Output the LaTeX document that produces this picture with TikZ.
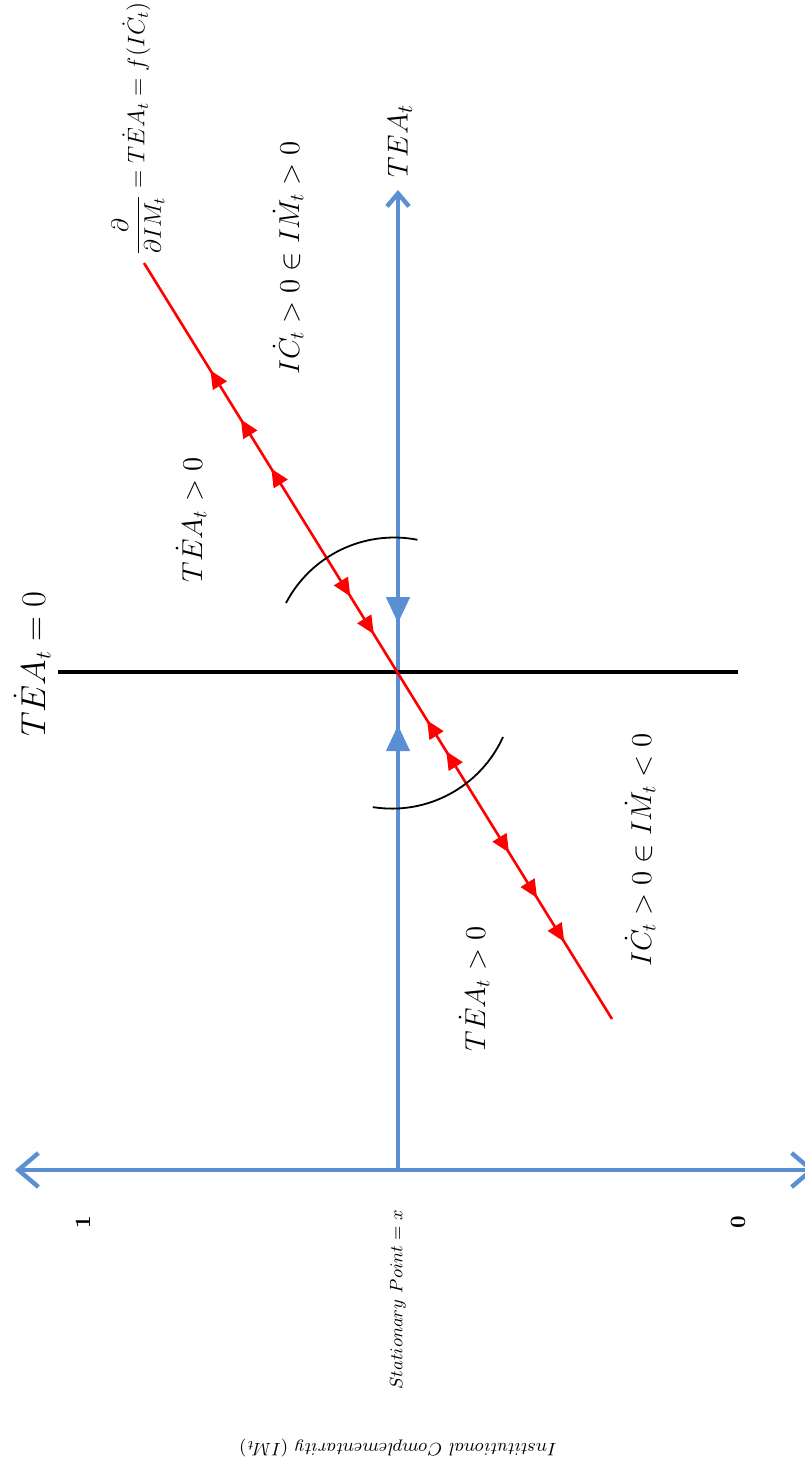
\documentclass[tikz,border=0pt]{standalone}
\usepackage{amsmath,amssymb}
\usepackage{xcolor}
\usepackage{tikz}
\usetikzlibrary{arrows.meta, decorations.markings}
\definecolor{axisblue}{RGB}{91,143,212}
\tikzset{
  axisline/.style={draw=axisblue, line width=2.2pt},
  nullline/.style={draw=black, line width=2pt},
  arcline/.style={draw=black, line width=0.9pt},
  rotlabel/.style={rotate=90, inner sep=0pt},
  bluetip/.tip={Triangle[length=13pt, width=11.5pt]},
  redtip/.tip={Triangle[length=9pt, width=8pt]},
  pathline/.style={
    draw=red, color=red, line width=1.3pt,
    postaction={decorate},
    decoration={markings,
      mark=at position 0.142 with {\arrowreversed{redtip}},
      mark=at position 0.207 with {\arrowreversed{redtip}},
      mark=at position 0.272 with {\arrowreversed{redtip}},
      mark=at position 0.441 with {\arrow{redtip}},
      mark=at position 0.491 with {\arrow{redtip}},
      mark=at position 0.605 with {\arrowreversed{redtip}},
      mark=at position 0.646 with {\arrowreversed{redtip}},
      mark=at position 0.780 with {\arrow{redtip}},
      mark=at position 0.840 with {\arrow{redtip}},
      mark=at position 0.898 with {\arrow{redtip}}}
  },
  stableline/.style={
    axisline, color=axisblue,
    postaction={decorate},
    decoration={markings,
      mark=at position 0.454 with {\arrow{bluetip}},
      mark=at position 0.558 with {\arrowreversed{bluetip}}}
  },
}

\begin{document}
\begin{tikzpicture}[x=0.5pt, y=-0.5pt]
  \useasboundingbox (0,0) rectangle (804,1468);

  % Points
  \coordinate (O) at (398,672);
  \coordinate (vbot) at (398,1170);
  \coordinate (vtop) at (398,190);
  \coordinate (hl) at (15,1170);
  \coordinate (hr) at (815,1170);
  \coordinate (nl) at (58,672);
  \coordinate (nr) at (738,672);
  \coordinate (rs) at (144,263);
  \coordinate (re) at (612,1019);
  \coordinate (arcA) at (286,603);
  \coordinate (arcB) at (503,737);

  % Axes
  \draw[axisline, {Straight Barb[length=10pt, width=17pt]}-{Straight Barb[length=10pt, width=17pt]}]
    (hl) -- (hr);
  \draw[stableline, -{Straight Barb[length=6.5pt, width=11pt]}] (vbot) -- (vtop);
  \draw[nullline] (nl) -- (nr);

  % Saddle path
  \draw[pathline] (rs) -- (re);

  % Arcs
  \draw[arcline] (arcA) arc[start angle=207.6, end angle=281, radius=122];
  \draw[arcline] (arcB) arc[start angle=24.4, end angle=99, radius=122];

  % Labels
  \node[rotlabel, font=\fontsize{16}{19}\selectfont] (nullcline) at (32,664) {$T\dot{E}A_t = 0$};
  \node[rotlabel, font=\fontsize{14.5}{17}\selectfont] (upgrowth) at (191,520) {$T\dot{E}A_t > 0$};
  \node[rotlabel, font=\fontsize{14.5}{17}\selectfont] (lowgrowth) at (474,989) {$T\dot{E}A_t > 0$};
  \node[rotlabel, font=\fontsize{14.5}{17}\selectfont] (upregime) at (288,258)
    {$I\dot{C}_t > 0 \in I\dot{M}_t > 0$};
  \node[rotlabel, font=\fontsize{14.5}{17}\selectfont] (lowregime) at (640,850)
    {$I\dot{C}_t > 0 \in I\dot{M}_t < 0$};
  \node[rotlabel, font=\fontsize{12}{14}\selectfont] (deriv) at (138,129)
    {$\dfrac{\partial}{\partial IM_t} = T\dot{E}A_t = f(I\dot{C}_t)$};
  \node[rotlabel, font=\fontsize{15.5}{18}\selectfont] (tealabel) at (400,141) {$TEA_t$};
  \node[rotlabel, font=\fontsize{10.5}{12}\selectfont] (one) at (83,1222) {$\mathbf{1}$};
  \node[rotlabel, font=\fontsize{10.5}{12}\selectfont] (zero) at (738,1222) {$\mathbf{0}$};
  \node[rotlabel, font=\fontsize{9.5}{11}\selectfont] (statpt) at (398,1300) {$Stationary\ Point = x$};
  \node[inner sep=0pt, rotate=180, font=\fontsize{9.5}{11}\selectfont] (imlabel) at (398,1448)
    {$Institutional\ Complementarity\ (IM_t)$};
\end{tikzpicture}
\end{document}
